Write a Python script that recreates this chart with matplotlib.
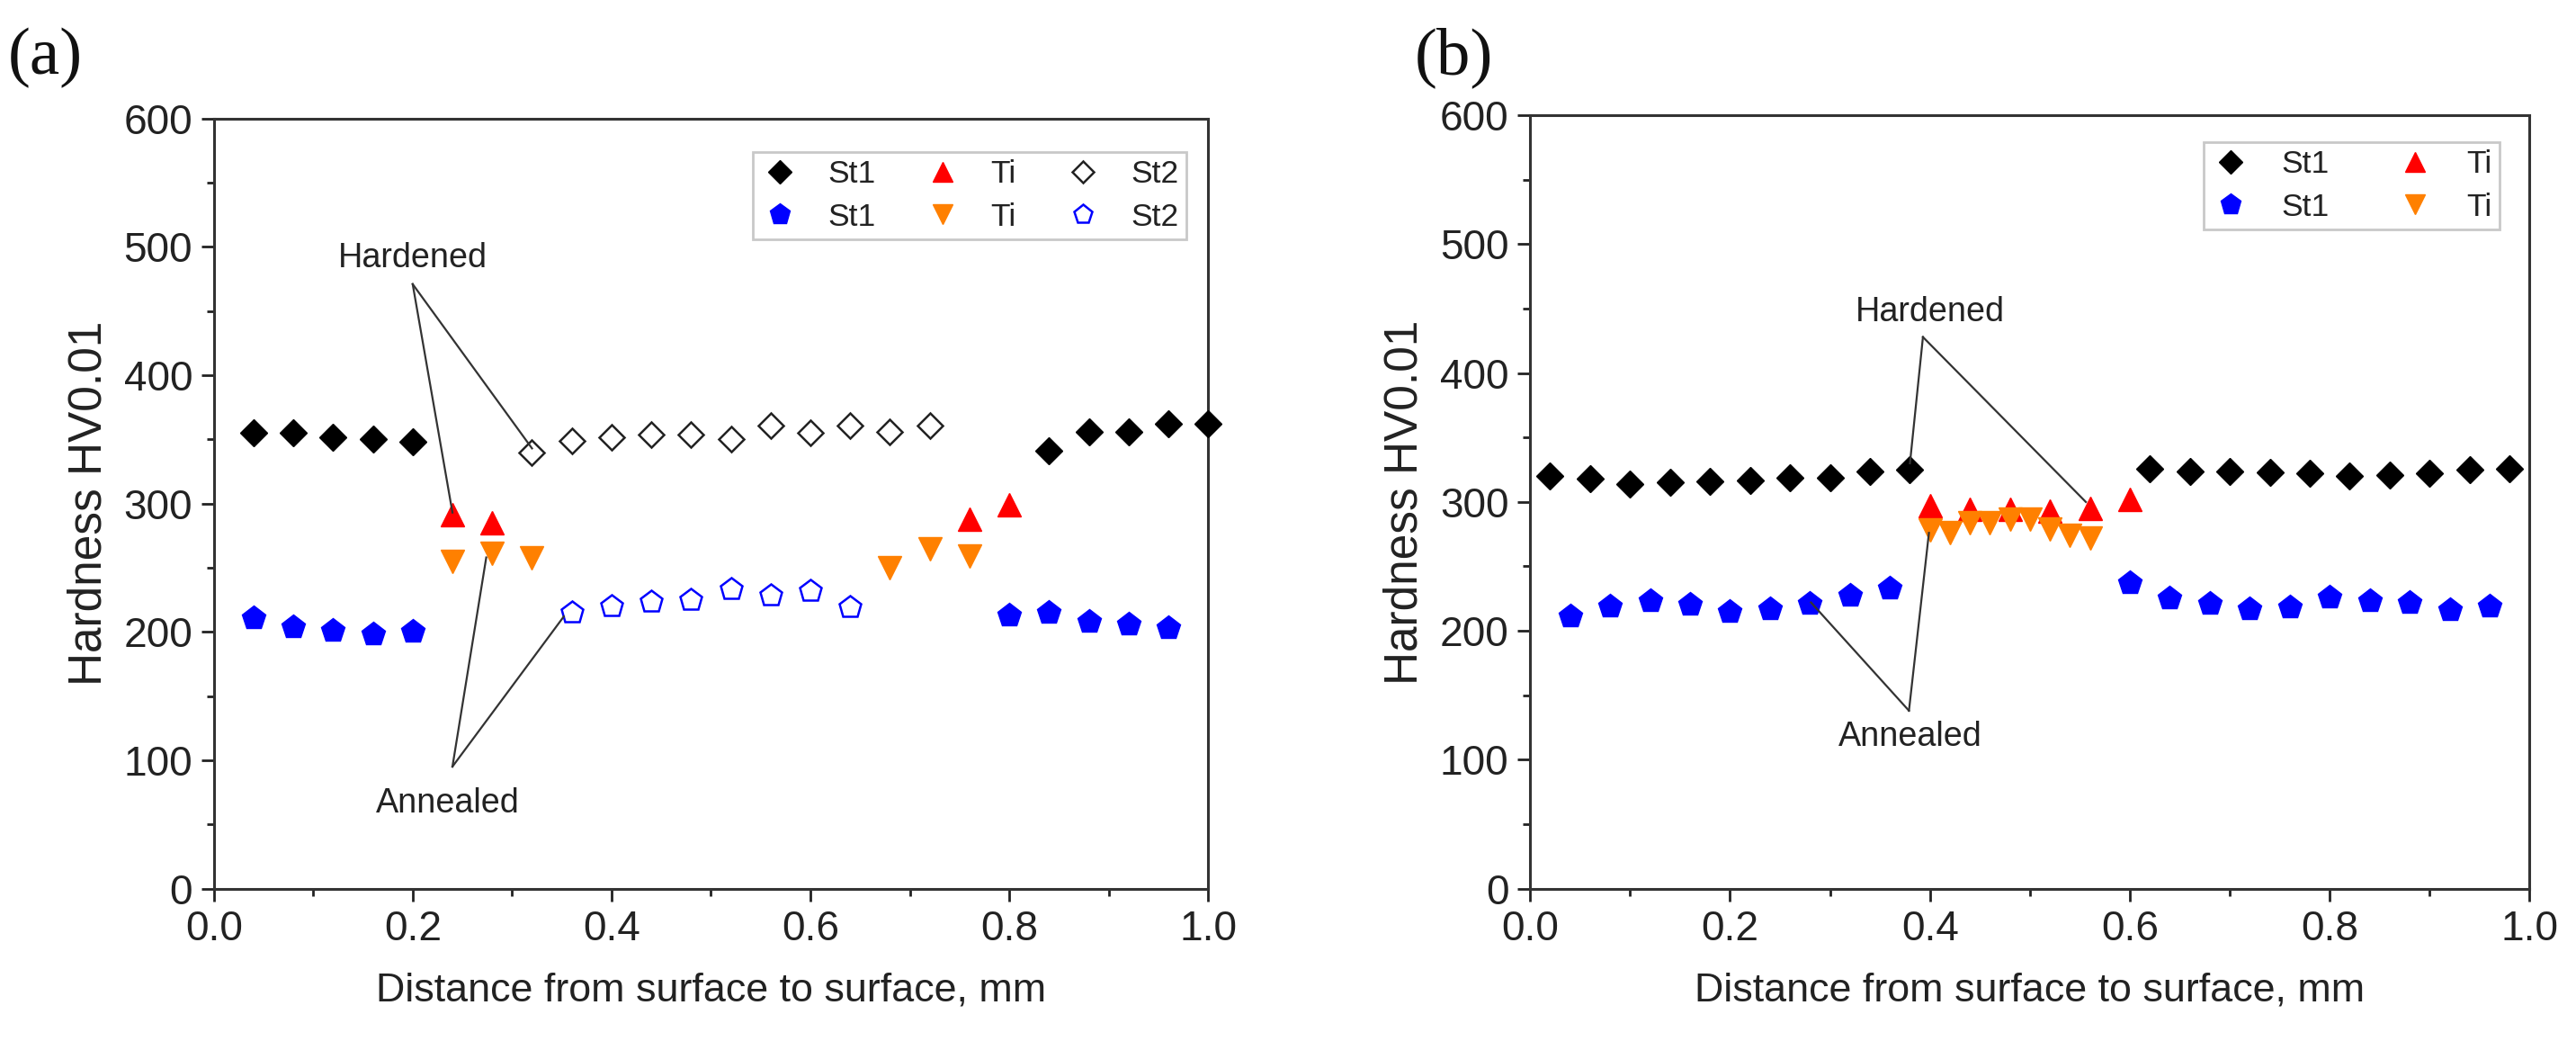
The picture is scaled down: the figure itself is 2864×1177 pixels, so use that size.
import matplotlib
matplotlib.use("Agg")
import matplotlib.pyplot as plt
from matplotlib.ticker import MultipleLocator, FormatStrFormatter
from matplotlib import font_manager as fm

plt.rcParams['font.family'] = ['Liberation Sans', 'DejaVu Sans']

# ---------------- Panel (a) data ----------------
a_st1_hard_x = [0.04, 0.08, 0.12, 0.16, 0.20, 0.84, 0.88, 0.92, 0.96, 1.00]
a_st1_hard_y = [355, 355, 352, 350, 348, 341, 356, 356, 362, 362]
a_ti_hard_x = [0.24, 0.28, 0.76, 0.80]
a_ti_hard_y = [291, 285, 288, 299]
a_st2_hard_x = [0.32, 0.36, 0.40, 0.44, 0.48, 0.52, 0.56, 0.60, 0.64, 0.68, 0.72]
a_st2_hard_y = [340, 349, 352, 354, 354, 350, 361, 355, 361, 356, 361]
a_st1_ann_x = [0.04, 0.08, 0.12, 0.16, 0.20, 0.80, 0.84, 0.88, 0.92, 0.96]
a_st1_ann_y = [211, 204, 201, 198, 200, 213, 215, 208, 206, 203]
a_ti_ann_x = [0.24, 0.28, 0.32, 0.68, 0.72, 0.76]
a_ti_ann_y = [255, 261, 258, 250, 265, 259]
a_st2_ann_x = [0.36, 0.40, 0.44, 0.48, 0.52, 0.56, 0.60, 0.64]
a_st2_ann_y = [215, 220, 223, 225, 233, 228, 232, 219]

# ---------------- Panel (b) data ----------------
b_st1_hard_x = [0.02, 0.06, 0.10, 0.14, 0.18, 0.22, 0.26, 0.30, 0.34, 0.38,
                0.62, 0.66, 0.70, 0.74, 0.78, 0.82, 0.86, 0.90, 0.94, 0.98]
b_st1_hard_y = [320, 318, 314, 315, 316, 317, 319, 319, 324, 325,
                326, 324, 324, 323, 322, 320, 321, 322, 325, 326]
b_ti_hard_x = [0.40, 0.44, 0.48, 0.52, 0.56, 0.60]
b_ti_hard_y = [297, 294, 294, 293, 295, 302]
b_st1_ann_x = [0.04, 0.08, 0.12, 0.16, 0.20, 0.24, 0.28, 0.32, 0.36,
               0.60, 0.64, 0.68, 0.72, 0.76, 0.80, 0.84, 0.88, 0.92, 0.96]
b_st1_ann_y = [211, 219, 223, 220, 215, 217, 221, 227, 233,
               237, 225, 221, 217, 218, 226, 223, 222, 216, 219]
b_ti_ann_x = [0.40, 0.42, 0.44, 0.46, 0.48, 0.50, 0.52, 0.54, 0.56]
b_ti_ann_y = [278, 276, 284, 284, 287, 287, 279, 274, 272]

# annotation anchors (text position, apex, targets)
a_hard_text = (0.20, 491); a_hard_apex = (0.20, 471)
a_hard_targets = [(0.24, 293), (0.32, 343)]
a_ann_text = (0.235, 66); a_ann_apex = (0.24, 95)
a_ann_targets = [(0.274, 258), (0.352, 212)]
b_hard_text = (0.40, 447); b_hard_apex = (0.393, 428)
b_hard_targets = [(0.38, 330), (0.556, 300)]
b_ann_text = (0.38, 118); b_ann_apex = (0.379, 138)
b_ann_targets = [(0.281, 222), (0.399, 276)]

BLACK = '#000000'
RED = '#FF0000'
ORANGE = '#FF8000'
BLUE = '#0000FF'
TXT = '#222222'


def have_font(name):
    try:
        fm.findfont(fm.FontProperties(family=name), fallback_to_default=False)
        return True
    except Exception:
        return False


if have_font('Liberation Sans Narrow'):
    NARROW = ['Liberation Sans Narrow', 'DejaVu Sans']
    NS = 1.0
else:
    NARROW = ['Liberation Sans', 'DejaVu Sans']
    NS = 0.85

TICK_FS = 39 * NS
XLABEL_FS = 38 * NS
YLABEL_FS = 37
LEG_FS = 30 * NS
ANN_FS = 32 * NS

MS_D = 15.5
MS_P = 20
MS_T = 19

fig = plt.figure(figsize=(28.64, 11.77), dpi=100)
axa = fig.add_axes([0.083, 0.161, 0.386, 0.727])
axb = fig.add_axes([0.594, 0.161, 0.388, 0.730])


def style_axes(ax):
    ax.set_xlim(0, 1.0)
    ax.set_ylim(0, 600)
    ax.xaxis.set_major_locator(MultipleLocator(0.2))
    ax.xaxis.set_minor_locator(MultipleLocator(0.1))
    ax.yaxis.set_major_locator(MultipleLocator(100))
    ax.yaxis.set_minor_locator(MultipleLocator(50))
    ax.xaxis.set_major_formatter(FormatStrFormatter('%.1f'))
    ax.tick_params(axis='both', which='major', direction='out', length=10, width=2,
                   color='#222222', pad=7)
    ax.tick_params(axis='both', which='minor', direction='out', length=6, width=2,
                   color='#222222')
    ax.tick_params(top=False, right=False, which='both')
    for lab in ax.get_xticklabels() + ax.get_yticklabels():
        lab.set_fontfamily(NARROW)
        lab.set_fontsize(TICK_FS)
        lab.set_color(TXT)
    for s in ax.spines.values():
        s.set_linewidth(2.2)
        s.set_color('#333333')
    ax.set_xlabel('Distance from surface to surface, mm', fontsize=XLABEL_FS,
                  family=NARROW, color=TXT, labelpad=18)
    ax.set_ylabel('Hardness HV0.01', fontsize=YLABEL_FS, color=TXT, labelpad=10)


def annotate(ax, label, text_xy, apex, targets):
    for t in targets:
        ax.plot([apex[0], t[0]], [apex[1], t[1]], color='#333333', lw=1.6, zorder=6)
    ax.text(text_xy[0], text_xy[1], label, ha='center', va='center', fontsize=ANN_FS,
            family=NARROW, color=TXT, zorder=7)


def style_legend(leg):
    leg.get_frame().set_edgecolor('#bbbbbb')
    leg.get_frame().set_linewidth(2.0)
    for t in leg.get_texts():
        t.set_color(TXT)
        t.set_fontfamily(NARROW)


kw = dict(linestyle='none', clip_on=False, zorder=3)

# ---------------- Panel (a) ----------------
style_axes(axa)
h1, = axa.plot(a_st1_hard_x, a_st1_hard_y, marker='D', ms=MS_D, color=BLACK, mec=BLACK, **kw)
h4, = axa.plot(a_st1_ann_x, a_st1_ann_y, marker='p', ms=MS_P, color=BLUE, mec=BLUE, **kw)
h2, = axa.plot(a_ti_hard_x, a_ti_hard_y, marker='^', ms=MS_T, color=RED, mec=RED, **kw)
h5, = axa.plot(a_ti_ann_x, a_ti_ann_y, marker='v', ms=MS_T, color=ORANGE, mec=ORANGE, **kw)
h3, = axa.plot(a_st2_hard_x, a_st2_hard_y, marker='D', ms=MS_D - 1.5, mfc='white', mec='#222222',
               mew=1.8, **kw)
h6, = axa.plot(a_st2_ann_x, a_st2_ann_y, marker='p', ms=MS_P - 1.5, mfc='white', mec=BLUE,
               mew=1.8, **kw)
annotate(axa, 'Hardened', a_hard_text, a_hard_apex, a_hard_targets)
annotate(axa, 'Annealed', a_ann_text, a_ann_apex, a_ann_targets)
lega = axa.legend([h1, h4, h2, h5, h3, h6], ['St1', 'St1', 'Ti', 'Ti', 'St2', 'St2'],
                  ncol=3, loc='upper right', bbox_to_anchor=(0.978, 0.957),
                  prop={'size': LEG_FS}, frameon=True, fancybox=False, borderpad=0.25,
                  handletextpad=0.9, columnspacing=1.5, labelspacing=0.4,
                  handlelength=1.2, markerscale=0.85, borderaxespad=0)
style_legend(lega)

# ---------------- Panel (b) ----------------
style_axes(axb)
g1, = axb.plot(b_st1_hard_x, b_st1_hard_y, marker='D', ms=MS_D, color=BLACK, mec=BLACK, **kw)
g3, = axb.plot(b_st1_ann_x, b_st1_ann_y, marker='p', ms=MS_P, color=BLUE, mec=BLUE, **kw)
g2, = axb.plot(b_ti_hard_x, b_ti_hard_y, marker='^', ms=MS_T, color=RED, mec=RED, **kw)
g4, = axb.plot(b_ti_ann_x, b_ti_ann_y, marker='v', ms=MS_T, color=ORANGE, mec=ORANGE, **kw)
annotate(axb, 'Hardened', b_hard_text, b_hard_apex, b_hard_targets)
annotate(axb, 'Annealed', b_ann_text, b_ann_apex, b_ann_targets)
legb = axb.legend([g1, g3, g2, g4], ['St1', 'St1', 'Ti', 'Ti'],
                  ncol=2, loc='upper right', bbox_to_anchor=(0.970, 0.966),
                  prop={'size': LEG_FS}, frameon=True, fancybox=False, borderpad=0.25,
                  handletextpad=1.0, columnspacing=2.1, labelspacing=0.4,
                  handlelength=1.2, markerscale=0.85, borderaxespad=0)
style_legend(legb)

# panel labels
fig.text(0.003, 0.945, '(a)', fontsize=54, family=['Liberation Serif', 'DejaVu Serif'],
         va='center', ha='left', color='#111111')
fig.text(0.549, 0.945, '(b)', fontsize=54, family=['Liberation Serif', 'DejaVu Serif'],
         va='center', ha='left', color='#111111')

fig.savefig('out.png', dpi=100)
